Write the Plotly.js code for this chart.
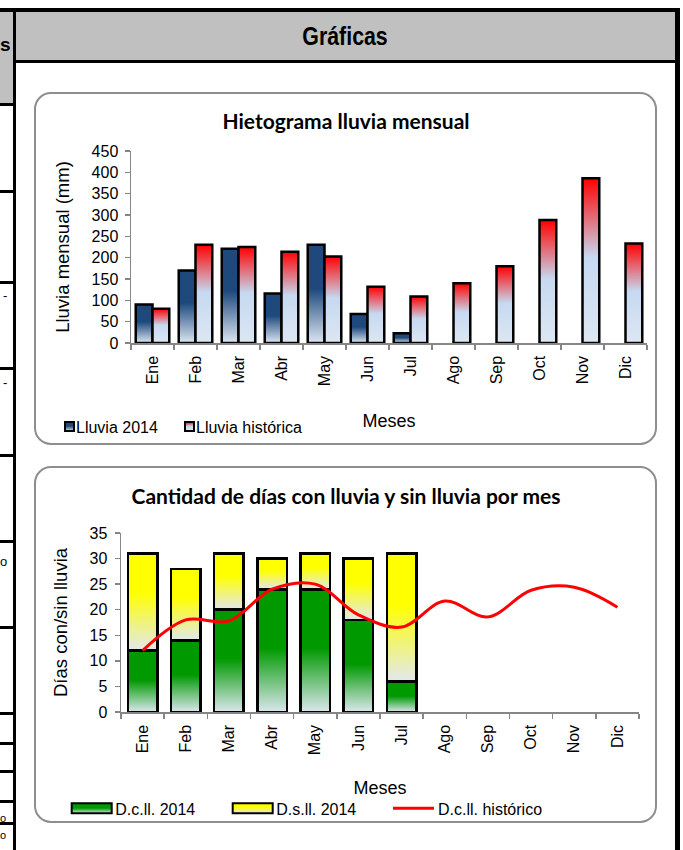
<!DOCTYPE html>
<html>
<head>
<meta charset="utf-8">
<script src="https://cdn.plot.ly/plotly-3.0.1.min.js"></script>
<style>
  html, body { margin: 0; padding: 0; background: #ffffff; }
  body { width: 683px; height: 850px; position: relative; overflow: hidden; font-family: "Liberation Sans", Arial, sans-serif; }
  .blk { position: absolute; background: #000000; }
  .gry { position: absolute; background: #c0c0c0; }
  .box { position: absolute; box-sizing: border-box; border: 2px solid #8e8e8e; border-radius: 17px; background: #ffffff; }
  .plot { position: absolute; }
  .hdr { position: absolute; left: 16px; top: 12px; width: 659px; height: 48px; line-height: 48px; text-align: center;
         font-family: "Liberation Sans", Arial, sans-serif; font-weight: bold; font-size: 26px; color: #000; }
  .hdr span { display: inline-block; transform: scaleX(0.82); }
  .frag { position: absolute; font-family: "Liberation Sans", Arial, sans-serif; color: #000; white-space: nowrap; }
</style>
</head>
<body>
  <!-- table frame -->
  <div class="gry" style="left:0;top:11px;width:13px;height:92px;"></div>
  <div class="gry" style="left:16px;top:11px;width:659px;height:49px;"></div>
  <div class="blk" style="left:0;top:8px;width:680px;height:3.5px;"></div>
  <div class="blk" style="left:13px;top:8px;width:3px;height:842px;"></div>
  <div class="blk" style="left:675px;top:8px;width:4.5px;height:842px;"></div>
  <div class="blk" style="left:16px;top:60px;width:659px;height:3px;"></div>
  <div class="blk" style="left:0;top:103px;width:13px;height:3px;"></div>
  <div class="blk" style="left:0;top:190px;width:13px;height:3px;"></div>
  <div class="blk" style="left:0;top:281px;width:13px;height:3px;"></div>
  <div class="blk" style="left:0;top:367px;width:13px;height:3px;"></div>
  <div class="blk" style="left:0;top:454px;width:13px;height:3px;"></div>
  <div class="blk" style="left:0;top:540px;width:13px;height:3px;"></div>
  <div class="blk" style="left:0;top:626px;width:13px;height:3px;"></div>
  <div class="blk" style="left:0;top:712px;width:13px;height:3px;"></div>
  <div class="blk" style="left:0;top:742px;width:13px;height:3px;"></div>
  <div class="blk" style="left:0;top:770px;width:13px;height:3px;"></div>
  <div class="blk" style="left:0;top:800px;width:13px;height:3px;"></div>
  <div class="blk" style="left:0;top:822px;width:13px;height:3px;"></div>
  <div class="frag" style="left:0;top:34px;font-size:19px;font-weight:bold;">s</div>
  <div class="frag" style="left:3px;top:288px;font-size:13px;">-</div>
  <div class="frag" style="left:3px;top:375px;font-size:13px;">-</div>
  <div class="frag" style="left:0;top:554px;font-size:13px;">o</div>
  <div class="frag" style="left:0;top:812px;font-size:11px;">o</div>
  <div class="frag" style="left:0;top:829px;font-size:11px;">o</div>
  <div class="hdr"><span>Gráficas</span></div>

  <div class="box" style="left:34px;top:92px;width:623px;height:353px;"></div>
  <div class="box" style="left:34px;top:466px;width:623px;height:357px;"></div>
  <div id="chart1" class="plot" style="left:36px;top:94px;width:620px;height:349px;"></div>
  <div id="chart2" class="plot" style="left:36px;top:468px;width:620px;height:353px;"></div>

<script>
// ---------- data ----------
const months = ['Ene','Feb','Mar','Abr','May','Jun','Jul','Ago','Sep','Oct','Nov','Dic'];
const monthsObserved = ['Ene','Feb','Mar','Abr','May','Jun','Jul'];
const lluvia2014 = [90, 170, 221, 116, 230, 68, 23];
const lluviaHistorica = [80, 230, 225, 214, 203, 132, 109, 140, 180, 288, 386, 233];
const diasConLluvia2014 = [12, 14, 20, 24, 24, 18, 6];
const diasSinLluvia2014 = [19, 14, 11, 6, 7, 12, 25];
const diasConLluviaHistorico = [12, 18, 17.8, 24, 25, 19, 16.6, 21.7, 18.6, 23.8, 24.4, 20.5];

const FONT = 'Liberation Sans, Arial, sans-serif';
const AXIS = '#868686';

function baseAxis() {
  return {
    showline: true, linecolor: AXIS, linewidth: 1.5,
    ticks: 'outside', ticklen: 5, tickcolor: AXIS, tickwidth: 1.5,
    showgrid: false, zeroline: false,
    tickfont: { family: FONT, size: 16, color: '#000' }
  };
}

// ---------- chart 1 ----------
const data1 = [
  { type: 'bar', name: 'Lluvia 2014', x: monthsObserved, y: lluvia2014,
    marker: { color: '#1f497d', line: { color: '#000', width: 2.5 } } },
  { type: 'bar', name: 'Lluvia histórica', x: months, y: lluviaHistorica,
    marker: { color: '#e26d79', line: { color: '#000', width: 2.5 } } }
];
const layout1 = {
  width: 620, height: 349,
  margin: { l: 95, r: 8.5, t: 57, b: 100 },
  paper_bgcolor: 'rgba(0,0,0,0)', plot_bgcolor: 'rgba(0,0,0,0)',
  barmode: 'group', bargap: 0.22, bargroupgap: 0,
  title: { text: 'Hietograma lluvia mensual', xref: 'container', x: 0.5, xanchor: 'center',
           yref: 'container', y: 1 - 27.7 / 349, yanchor: 'middle',
           font: { family: 'Lato, sans-serif', size: 21, weight: 'bold', color: '#000' } },
  xaxis: Object.assign(baseAxis(), {
    type: 'category', categoryorder: 'array', categoryarray: months, range: [-0.5, 11.5],
    tickson: 'boundaries', tickangle: -90, ticklabelstandoff: 5,
    title: { text: 'Meses', standoff: 29, font: { family: FONT, size: 18, color: '#000' } }
  }),
  yaxis: Object.assign(baseAxis(), {
    range: [0, 450], dtick: 50, ticklabelstandoff: 3,
    title: { text: 'Lluvia mensual (mm)', standoff: 17, font: { family: FONT, size: 18.5, color: '#000' } }
  }),
  showlegend: true,
  legend: { orientation: 'h', traceorder: 'normal', font: { family: FONT, size: 16, color: '#000' },
            bgcolor: 'rgba(0,0,0,0)', x: 0, y: 0, xanchor: 'left', yanchor: 'top' }
};

// ---------- chart 2 ----------
const data2 = [
  { type: 'bar', name: 'D.c.ll. 2014', x: monthsObserved, y: diasConLluvia2014,
    marker: { color: '#009900', line: { color: '#000', width: 2.5 } } },
  { type: 'bar', name: 'D.s.ll. 2014', x: monthsObserved, y: diasSinLluvia2014,
    marker: { color: '#ffff00', line: { color: '#000', width: 2.5 } } },
  { type: 'scatter', mode: 'lines', name: 'D.c.ll. histórico', x: months, y: diasConLluviaHistorico,
    line: { color: '#ff0000', width: 3, shape: 'spline', smoothing: 1 } }
];
const layout2 = {
  width: 620, height: 353,
  margin: { l: 85, r: 17, t: 65.3, b: 108.7 },
  paper_bgcolor: 'rgba(0,0,0,0)', plot_bgcolor: 'rgba(0,0,0,0)',
  barmode: 'stack', bargap: 0.32,
  title: { text: 'Cantidad de días con lluvia y sin lluvia por mes', xref: 'container', x: 0.5, xanchor: 'center',
           yref: 'container', y: 1 - 28.7 / 353, yanchor: 'middle',
           font: { family: 'Lato, sans-serif', size: 21, weight: 'bold', color: '#000' } },
  xaxis: Object.assign(baseAxis(), {
    type: 'category', categoryorder: 'array', categoryarray: months, range: [-0.5, 11.5],
    tickson: 'boundaries', tickangle: -90, ticklabelstandoff: 5,
    title: { text: 'Meses', standoff: 27, font: { family: FONT, size: 18, color: '#000' } }
  }),
  yaxis: Object.assign(baseAxis(), {
    range: [0, 35], dtick: 5, ticklabelstandoff: 4,
    title: { text: 'Días con/sin lluvia', standoff: 17, font: { family: FONT, size: 18.5, color: '#000' } }
  }),
  showlegend: true,
  legend: { orientation: 'h', traceorder: 'normal', font: { family: FONT, size: 16, color: '#000' },
            bgcolor: 'rgba(0,0,0,0)', x: 0, y: 0, xanchor: 'left', yanchor: 'top' }
};

// ---------- gradient helpers (visual styling of library-drawn marks) ----------
const gradients = {
  gBlue:   [[0, '#1f497d'], [0.45, '#1f497d'], [1, '#dce6f2']],
  gRed:    [[0, '#ff0000'], [0.48, '#c6d9f1'], [1, '#dde7f3']],
  gGreen:  [[0, '#009900'], [0.48, '#009900'], [1, '#dbe7ee']],
  gYellow: [[0, '#ffff00'], [0.4, '#ffff00'], [1, '#e2e8ee']]
};
function addGradients(gd, ids) {
  const svg = gd.querySelector('svg.main-svg');
  const NS = 'http://www.w3.org/2000/svg';
  const defs = document.createElementNS(NS, 'defs');
  ids.forEach(id => {
    const lg = document.createElementNS(NS, 'linearGradient');
    lg.setAttribute('id', id);
    lg.setAttribute('x1', '0'); lg.setAttribute('y1', '0');
    lg.setAttribute('x2', '0'); lg.setAttribute('y2', '1');
    gradients[id].forEach(([o, c]) => {
      const st = document.createElementNS(NS, 'stop');
      st.setAttribute('offset', o); st.setAttribute('stop-color', c);
      lg.appendChild(st);
    });
    defs.appendChild(lg);
  });
  svg.insertBefore(defs, svg.firstChild);
}
function paintBars(gd, ids) {
  const traces = gd.querySelectorAll('.barlayer g.trace.bars');
  traces.forEach((t, i) => {
    if (!ids[i]) return;
    t.querySelectorAll('g.point path').forEach(p => { p.style.fill = 'url(#' + ids[i] + ')'; });
  });
}
function placeLegend(gd, specs, yCenter) {
  const leg = gd.querySelector('g.legend');
  if (!leg) return;
  leg.setAttribute('transform', 'translate(0,0)');
  leg.querySelectorAll('[clip-path]').forEach(e => e.removeAttribute('clip-path'));
  leg.querySelectorAll('g.scrollbox, g.groups').forEach(e => e.setAttribute('transform', 'translate(0,0)'));
  const bg = leg.querySelector('rect.bg'); if (bg) bg.style.display = 'none';
  leg.querySelectorAll('g.traces').forEach(t => {
    const txt = t.querySelector('text.legendtext');
    const s = specs[txt.textContent];
    if (!s) return;
    t.setAttribute('transform', 'translate(' + s.x + ',' + yCenter + ')');
    txt.setAttribute('x', s.textX);
    txt.querySelectorAll('tspan[x]').forEach(ts => ts.setAttribute('x', s.textX));
    if (s.grad) {
      t.querySelectorAll('g.legendpoints path').forEach(bar => {
        bar.removeAttribute('transform');
        bar.setAttribute('d', 'M0,' + (-s.h / 2) + 'H' + s.w + 'V' + (s.h / 2) + 'H0Z');
        bar.style.fill = 'url(#' + s.grad + ')';
        bar.style.strokeWidth = '2px';
        bar.style.stroke = '#000';
      });
    } else {
      t.querySelectorAll('g.legendlines path').forEach(line => line.setAttribute('d', 'M0,0h' + s.w));
    }
  });
}

const cfg = { staticPlot: true, displayModeBar: false };
const gd1 = document.getElementById('chart1');
const gd2 = document.getElementById('chart2');

Plotly.newPlot(gd1, data1, layout1, cfg).then(() => {
  addGradients(gd1, ['gBlue', 'gRed']);
  paintBars(gd1, ['gBlue', 'gRed']);
  placeLegend(gd1, {
    'Lluvia 2014':      { x: 29,  textX: 11, w: 9, h: 9, grad: 'gBlue' },
    'Lluvia histórica': { x: 149, textX: 11, w: 9, h: 9, grad: 'gRed' }
  }, 332.5);
});
Plotly.newPlot(gd2, data2, layout2, cfg).then(() => {
  addGradients(gd2, ['gGreen', 'gYellow']);
  paintBars(gd2, ['gGreen', 'gYellow']);
  placeLegend(gd2, {
    'D.c.ll. 2014':      { x: 35.7, textX: 43.5, w: 40, h: 10, grad: 'gGreen' },
    'D.s.ll. 2014':      { x: 196.7, textX: 43.5, w: 40, h: 10, grad: 'gYellow' },
    'D.c.ll. histórico': { x: 357, textX: 45, w: 41 }
  }, 340.3);
});
</script>
</body>
</html>
